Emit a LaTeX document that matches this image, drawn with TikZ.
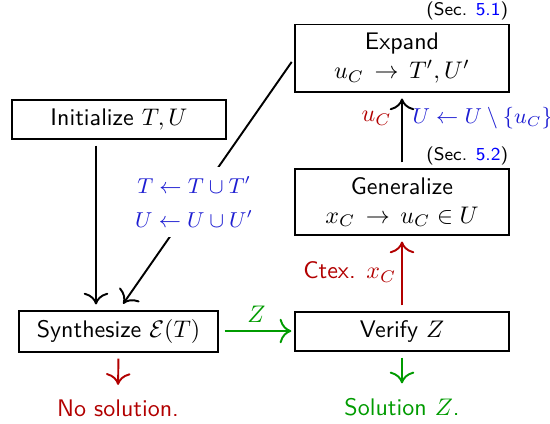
\documentclass[tikz,border=0pt]{standalone}
\usetikzlibrary{calc,arrows.meta}
\definecolor{myred}{RGB}{178,0,0}
\definecolor{mygreen}{RGB}{0,155,0}
\definecolor{myblue}{RGB}{30,30,210}
\definecolor{linkblue}{RGB}{0,0,255}
\begin{document}
\begin{tikzpicture}[x=0.4167pt,y=-0.4167pt,font=\sffamily,
  box/.style={draw,line width=0.45pt,inner sep=0pt,minimum width=89.2pt,align=center},
  arr/.style={-{To[scale=1.45]},thick,shorten <=2.5pt,shorten >=2.5pt},
  bluelabel/.style={text=myblue,font=\sffamily\small},
  seclabel/.style={anchor=base east,inner sep=0pt,font=\sffamily\fontsize{7.6}{9}\selectfont}]
\useasboundingbox (0,0) rectangle (550,423);

\node[box,minimum height=16.25pt] (init) at (119,119.5) {Initialize $T,U$};
\node[box,minimum width=82.9pt,minimum height=17.1pt] (synth) at (118.5,331.5) {Synthesize $\mathcal{E}(T)$};
\node[box,minimum height=16.25pt] (verify) at (402,331.5) {Verify $Z$};
\node[box,minimum height=27.5pt] (gen) at (402,202) {Generalize\\ $x_C\,\rightarrow\,u_C\in U$};
\node[box,minimum height=28.3pt] (expand) at (402,58) {Expand\\ $u_C\,\rightarrow\,T',U'$};

\node[seclabel] (sec1) at ($(expand.north east)+(-1,-8)$) {(Sec. \textcolor{linkblue}{5.1})};
\node[seclabel] (sec2) at ($(gen.north east)+(-1,-7.5)$) {(Sec. \textcolor{linkblue}{5.2})};

\node[anchor=base,text=myred] (nosol) at (118,416) {No solution.};
\node[anchor=base,text=mygreen] (sol) at (402,415) {Solution $Z$.};

\draw[arr] ($(init.south)+(-23,0)$) -- ($(synth.north)+(-22.5,0)$);
\draw[arr,shorten <=2pt,shorten >=3.4pt] (expand.west) -- node[pos=0.57,fill=white,bluelabel,align=center,inner sep=4pt]{$T\leftarrow T\cup T'$\\[3pt] $U\leftarrow U\cup U'$} (synth.north);
\draw[arr] (gen.north) -- node[pos=0.66,left,text=myred,inner sep=4pt]{$u_C$} node[pos=0.66,right,bluelabel,inner sep=4pt]{$U\leftarrow U\setminus\{u_C\}$} (expand.south);
\draw[arr,myred] (verify.north) -- node[pos=0.52,left,inner sep=2pt]{Ctex. $x_C$} (gen.south);
\draw[arr,mygreen,shorten >=1.3pt] ($(synth.east)+(0,-0.5)$) -- node[above]{$Z$} ($(verify.west)+(0,-0.5)$);
\draw[arr,myred] (synth.south) -- (nosol.north);
\draw[arr,mygreen] (verify.south) -- (sol.north);
\end{tikzpicture}
\end{document}
